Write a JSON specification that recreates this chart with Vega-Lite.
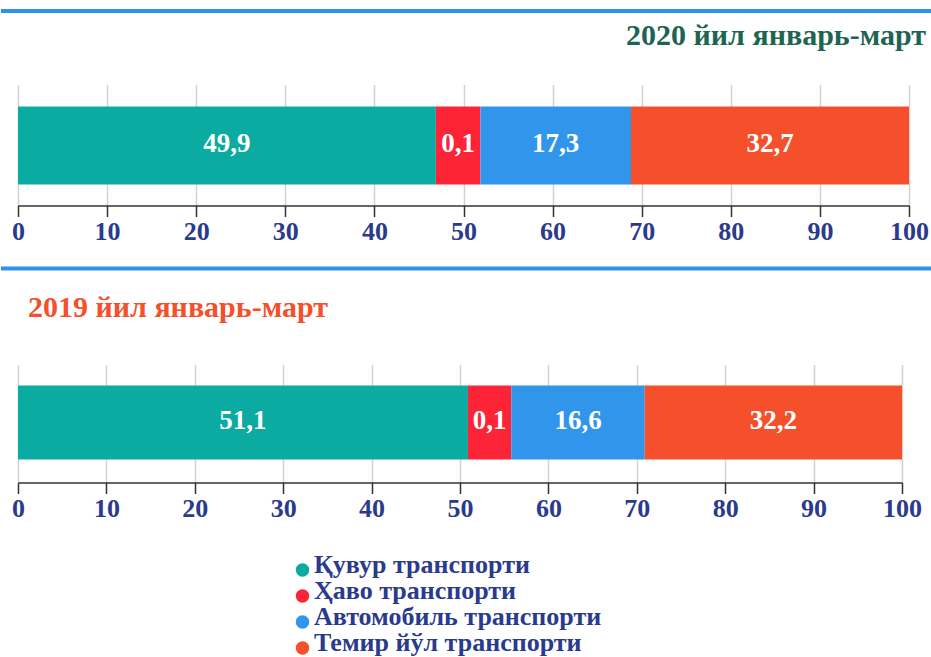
{
  "$schema": "https://vega.github.io/schema/vega-lite/v6.json",
  "padding": {"top": 8.5, "left": 0, "right": 0, "bottom": 0},
  "background": "#ffffff",
  "spacing": 159,
  "bounds": "flush",
  "resolve": {"scale": {"color": "shared"}, "legend": {"color": "shared"}},
  "config": {
    "font": "Liberation Serif",
    "view": {"stroke": null},
    "locale": {"number": {"decimal": ",", "thousands": " ", "grouping": [3], "currency": ["", ""]}},
    "axis": {
      "domainColor": "#333333", "domainWidth": 1.5,
      "tickColor": "#333333", "tickWidth": 1.5, "tickSize": 11,
      "labelFont": "Liberation Serif", "labelFontWeight": "bold", "labelFontSize": 26,
      "labelColor": "#2a3a8c", "labelPadding": 2, "labelFlush": false,
      "gridColor": "#d2d2d2", "gridWidth": 1.5, "title": null
    }
  },
  "vconcat": [
    {
      "width": 891,
      "height": 121,
      "data": {"values": [
        {"year": "2020", "type": "Қувур транспорти", "k": 1, "value": 46.9, "share": 49.9},
        {"year": "2020", "type": "Ҳаво транспорти", "k": 2, "value": 5.0, "share": 0.1},
        {"year": "2020", "type": "Автомобиль транспорти", "k": 3, "value": 16.9, "share": 17.3},
        {"year": "2020", "type": "Темир йўл транспорти", "k": 4, "value": 31.2, "share": 32.7}
      ]},
      "layer": [
        {
          "data": {"values": [{"line": "top"}]},
          "mark": {"type": "rect", "color": "#2f92ea"},
          "encoding": {
            "x": {"datum": -1.908, "type": "quantitative", "scale": {"domain": [0, 100], "nice": false}},
            "x2": {"datum": 102.58},
            "y": {"datum": 16.24, "type": "quantitative", "scale": {"domain": [0, 10], "nice": false}, "axis": null},
            "y2": {"datum": 15.91}
          }
        },
        {
          "data": {"values": [{"title": "2020 йил январь-март"}]},
          "mark": {"type": "text", "align": "right", "baseline": "middle", "fontSize": 30, "fontWeight": "bold", "color": "#1d6553"},
          "encoding": {
            "x": {"datum": 101.9, "type": "quantitative"},
            "y": {"datum": 13.97, "type": "quantitative"},
            "text": {"field": "title", "type": "nominal"}
          }
        },
        {
          "transform": [{"stack": "value", "groupby": ["year"], "sort": [{"field": "k", "order": "ascending"}], "as": ["x0", "x1"]}],
          "mark": {"type": "bar"},
          "encoding": {
            "x": {"field": "x0", "type": "quantitative", "axis": {"values": [0, 10, 20, 30, 40, 50, 60, 70, 80, 90, 100], "grid": true}},
            "x2": {"field": "x1"},
            "y": {"datum": 1.74, "type": "quantitative"},
            "y2": {"datum": 8.18},
            "color": {
              "field": "type", "type": "nominal",
              "scale": {"domain": ["Қувур транспорти", "Ҳаво транспорти", "Автомобиль транспорти", "Темир йўл транспорти"], "range": ["#0caba1", "#fe2438", "#3095eb", "#f5502b"]},
              "legend": {
                "orient": "none", "legendX": 271.5, "legendY": 475.5, "direction": "vertical", "title": null,
                "symbolType": "M -1,-0.45 A 1,1 0 1,1 1,-0.45 A 1,1 0 1,1 -1,-0.45 Z",
                "symbolSize": 180, "symbolStrokeWidth": 0,
                "labelFont": "Liberation Serif", "labelFontWeight": "bold", "labelFontSize": 26,
                "labelColor": "#2a3a8c", "labelOffset": -1.5, "rowPadding": 0, "labelLimit": 0,
                "labelBaseline": "alphabetic"
              }
            }
          }
        },
        {
          "transform": [
            {"stack": "value", "groupby": ["year"], "sort": [{"field": "k", "order": "ascending"}], "as": ["x0", "x1"]},
            {"fold": ["x0", "x1"], "as": ["edge", "pos"]},
            {"aggregate": [{"op": "mean", "field": "pos", "as": "mid"}], "groupby": ["type", "share"]}
          ],
          "mark": {"type": "text", "align": "center", "baseline": "middle", "fontSize": 27, "fontWeight": "bold", "color": "#ffffff"},
          "encoding": {
            "x": {"field": "mid", "type": "quantitative"},
            "y": {"datum": 5.12, "type": "quantitative"},
            "text": {"field": "share", "type": "quantitative", "format": ".1f"}
          }
        }
      ]
    },
    {
      "width": 884,
      "height": 118,
      "data": {"values": [
        {"year": "2019", "type": "Қувур транспорти", "k": 1, "value": 50.9, "share": 51.1},
        {"year": "2019", "type": "Ҳаво транспорти", "k": 2, "value": 4.9, "share": 0.1},
        {"year": "2019", "type": "Автомобиль транспорти", "k": 3, "value": 15.1, "share": 16.6},
        {"year": "2019", "type": "Темир йўл транспорти", "k": 4, "value": 29.1, "share": 32.2}
      ]},
      "layer": [
        {
          "data": {"values": [{"line": "middle"}]},
          "mark": {"type": "rect", "color": "#2f92ea"},
          "encoding": {
            "x": {"datum": -1.923, "type": "quantitative", "scale": {"domain": [0, 100], "nice": false}},
            "x2": {"datum": 103.39},
            "y": {"datum": 18.31, "type": "quantitative", "scale": {"domain": [0, 10], "nice": false}, "axis": null},
            "y2": {"datum": 17.97}
          }
        },
        {
          "data": {"values": [{"title": "2019 йил январь-март"}]},
          "mark": {"type": "text", "align": "left", "baseline": "middle", "fontSize": 30, "fontWeight": "bold", "color": "#f4502b"},
          "encoding": {
            "x": {"datum": 1.13, "type": "quantitative"},
            "y": {"datum": 14.79, "type": "quantitative"},
            "text": {"field": "title", "type": "nominal"}
          }
        },
        {
          "transform": [{"stack": "value", "groupby": ["year"], "sort": [{"field": "k", "order": "ascending"}], "as": ["x0", "x1"]}],
          "mark": {"type": "bar"},
          "encoding": {
            "x": {"field": "x0", "type": "quantitative", "axis": {"values": [0, 10, 20, 30, 40, 50, 60, 70, 80, 90, 100], "grid": true}},
            "x2": {"field": "x1"},
            "y": {"datum": 1.95, "type": "quantitative"},
            "y2": {"datum": 8.22},
            "color": {"field": "type", "type": "nominal"}
          }
        },
        {
          "transform": [
            {"stack": "value", "groupby": ["year"], "sort": [{"field": "k", "order": "ascending"}], "as": ["x0", "x1"]},
            {"fold": ["x0", "x1"], "as": ["edge", "pos"]},
            {"aggregate": [{"op": "mean", "field": "pos", "as": "mid"}], "groupby": ["type", "share"]}
          ],
          "mark": {"type": "text", "align": "center", "baseline": "middle", "fontSize": 27, "fontWeight": "bold", "color": "#ffffff"},
          "encoding": {
            "x": {"field": "mid", "type": "quantitative"},
            "y": {"datum": 5.17, "type": "quantitative"},
            "text": {"field": "share", "type": "quantitative", "format": ".1f"}
          }
        }
      ]
    }
  ]
}
